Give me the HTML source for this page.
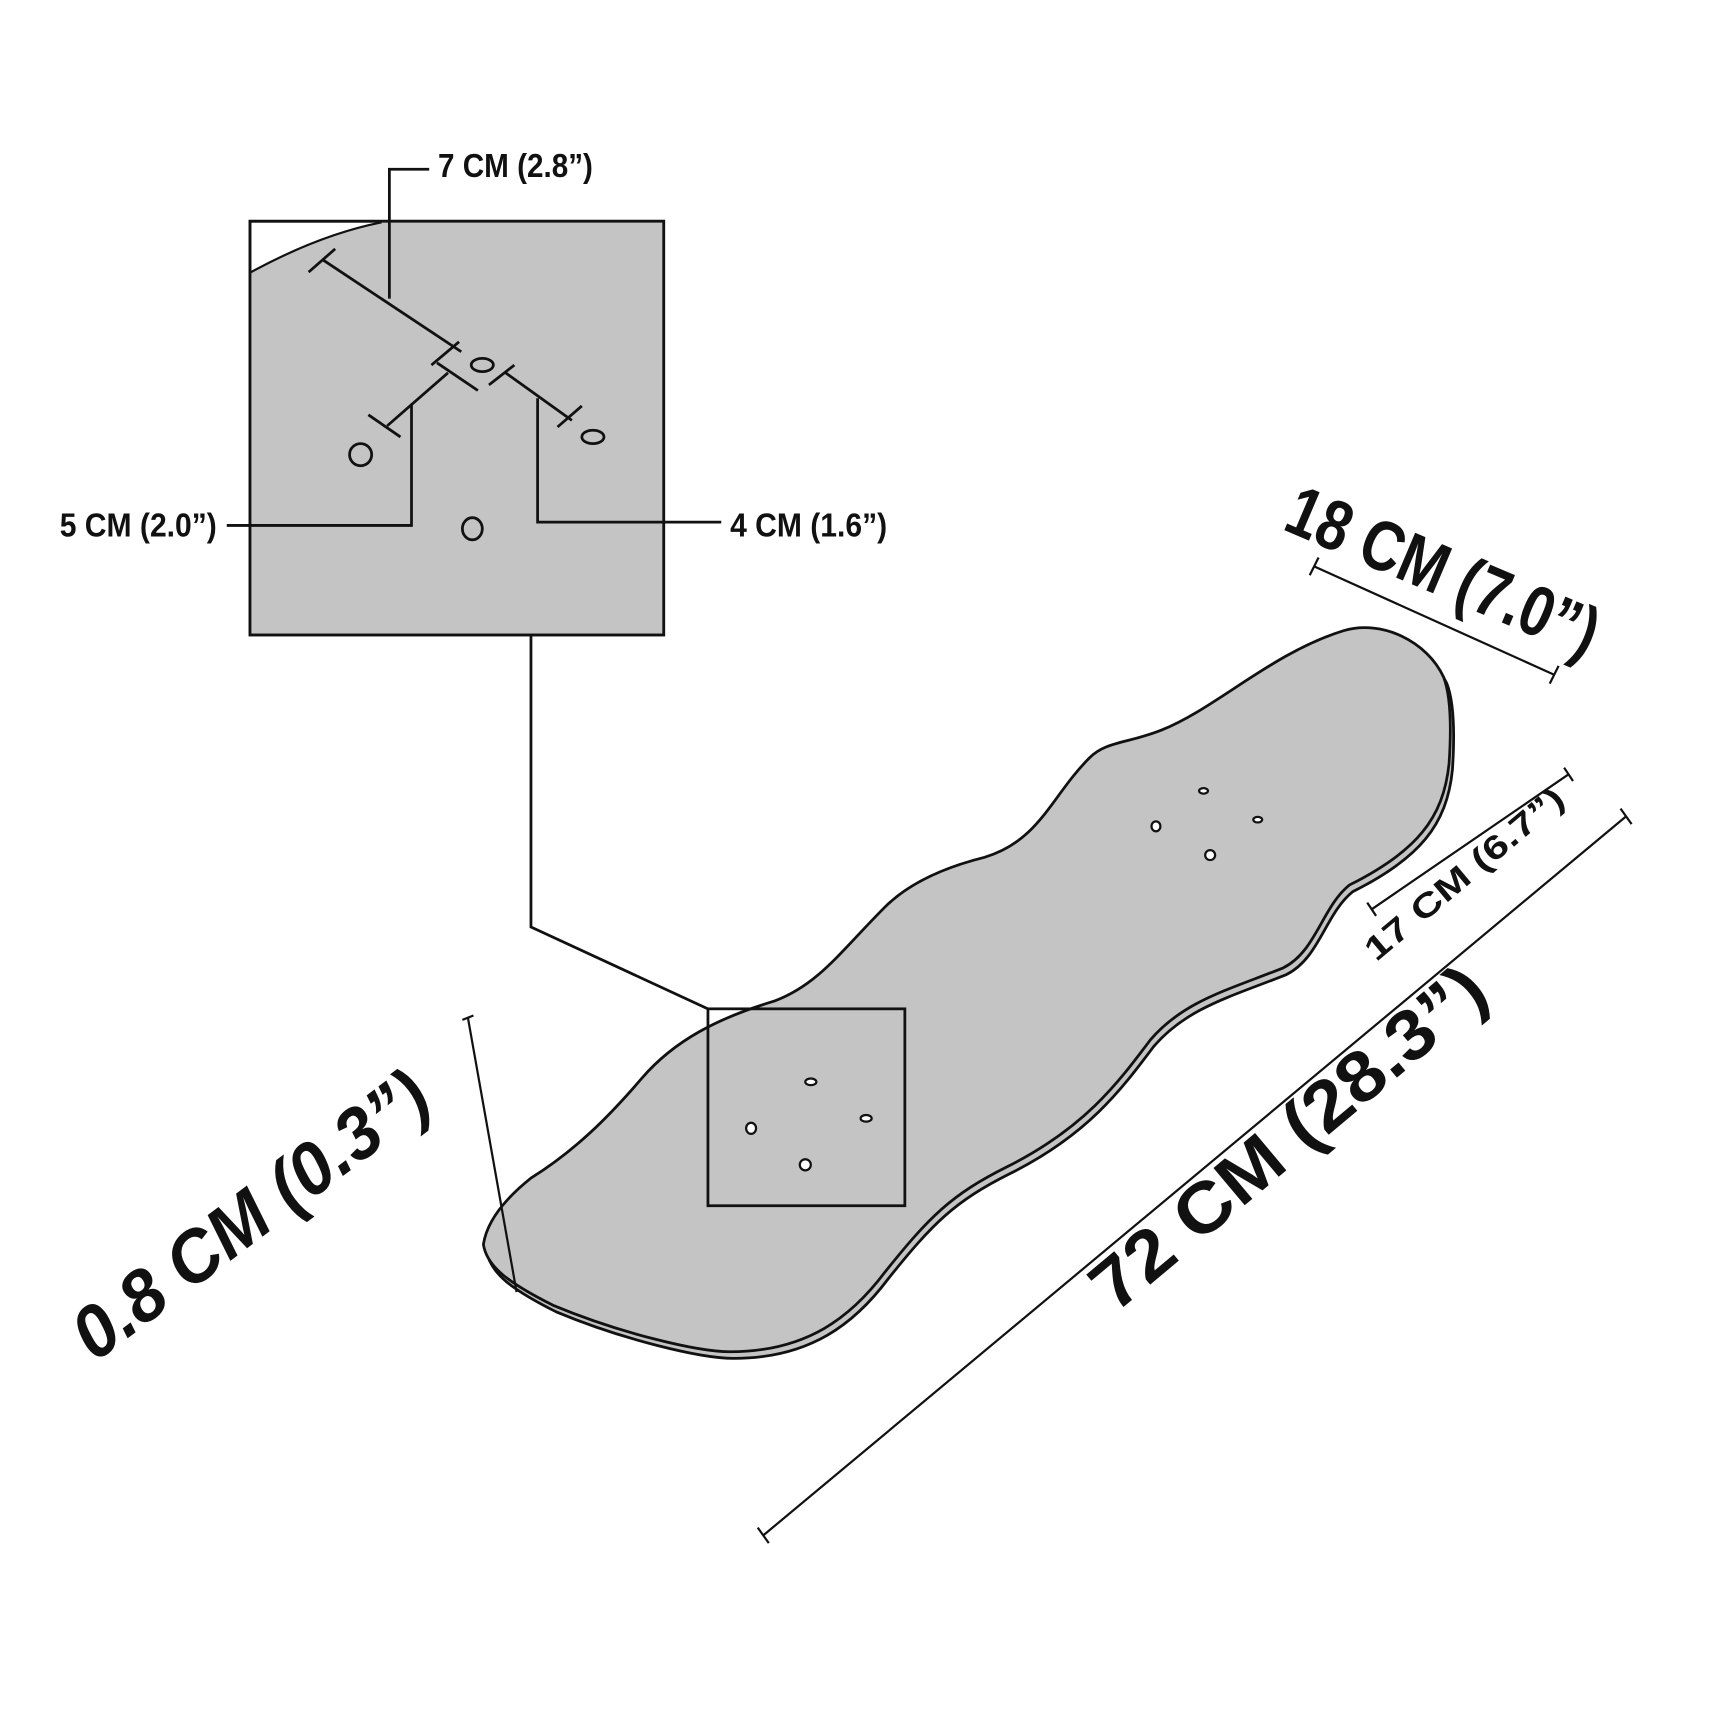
<!DOCTYPE html>
<html><head><meta charset="utf-8"><style>
html,body{margin:0;padding:0;background:#fff;width:1719px;height:1719px;overflow:hidden}
svg{display:block}
text{font-family:"Liberation Sans Narrow","Liberation Sans",sans-serif;font-weight:bold;fill:#111}
</style></head><body>
<svg width="1719" height="1719" viewBox="0 0 1554 1554" xmlns="http://www.w3.org/2000/svg">
<defs>
<path id="deck" d="M1305,612 C1290,580 1250,560 1215,570 C1150,590 1100,640 1050,660 C1020,672 1000,670 985,685 C950,720 940,760 890,775 C850,785 820,800 800,820 C760,860 740,890 700,905 C650,920 610,940 580,975 C550,1010 520,1040 480,1065 C455,1085 440,1105 437,1125 C440,1145 460,1160 500,1180 C560,1205 630,1222 660,1222 C730,1222 770,1190 800,1150 C840,1100 860,1080 910,1055 C980,1020 1010,980 1040,940 C1070,905 1110,895 1160,875 C1190,860 1195,820 1220,800 C1280,770 1305,740 1310,690 C1312,660 1312,630 1305,612 Z"/>
</defs>
<use href="#deck" transform="translate(3,6)" fill="#c4c4c4" stroke="#111" stroke-width="2.5"/>
<use href="#deck" fill="#c4c4c4" stroke="#111" stroke-width="2.5"/>
<g fill="#fff" stroke="#111" stroke-width="2">
<ellipse cx="1088" cy="715" rx="4" ry="2.5"/><ellipse cx="1045" cy="747" rx="4" ry="4.5"/><ellipse cx="1137" cy="741" rx="4" ry="2.5"/><ellipse cx="1094" cy="773" rx="4.5" ry="4.5"/>
<ellipse cx="733" cy="978" rx="5" ry="3"/><ellipse cx="679" cy="1020" rx="4.5" ry="5"/><ellipse cx="783" cy="1011" rx="5" ry="3"/><ellipse cx="728" cy="1053" rx="5" ry="5"/>
</g>
<rect x="640" y="912" width="178" height="178" fill="none" stroke="#111" stroke-width="2.5"/>
<polyline points="480,575 480,838 640,912" fill="none" stroke="#111" stroke-width="2.5"/>
<rect x="226" y="200" width="374" height="374" fill="#fff" stroke="#111" stroke-width="2.5"/>
<path d="M227,246 C260,228 300,210 345,201 L599,201 L599,573 L227,573 Z" fill="#c4c4c4"/>
<path d="M227,246 C260,228 300,210 345,201" fill="none" stroke="#111" stroke-width="2"/>
<rect x="226" y="200" width="374" height="374" fill="none" stroke="#111" stroke-width="2.5"/>
<g fill="none" stroke="#111" stroke-width="2.5">
<line x1="292" y1="235" x2="417" y2="318"/><line x1="279" y1="246" x2="303" y2="225"/><line x1="390" y1="330" x2="415" y2="309"/>
<line x1="395" y1="328" x2="432" y2="353"/><line x1="442" y1="348" x2="465" y2="330"/><line x1="457" y1="337" x2="517" y2="380"/><line x1="504" y1="386" x2="526" y2="367"/>
<line x1="405" y1="337" x2="350" y2="385"/><line x1="333" y1="375" x2="362" y2="395"/>
<polyline points="352,270 352,153 388,153"/>
<polyline points="205,475 372,475 372,365"/>
<polyline points="486,360 486,472 652,472"/>
<ellipse cx="436" cy="330" rx="10" ry="6" fill="#c4c4c4"/><ellipse cx="326" cy="411" rx="10" ry="10" fill="#c4c4c4"/><ellipse cx="536" cy="395" rx="10" ry="6" fill="#c4c4c4"/><ellipse cx="427" cy="478" rx="9" ry="10" fill="#c4c4c4"/>
</g>
<text x="396" y="160" font-size="30" textLength="140" lengthAdjust="spacingAndGlyphs">7 CM (2.8”)</text>
<text x="54" y="485" font-size="30" textLength="142" lengthAdjust="spacingAndGlyphs">5 CM (2.0”)</text>
<text x="660" y="485" font-size="30" textLength="142" lengthAdjust="spacingAndGlyphs">4 CM (1.6”)</text>
<g stroke="#111" stroke-width="2">
<line x1="1188" y1="512" x2="1405" y2="610"/><line x1="1184" y1="520" x2="1192" y2="504"/><line x1="1401" y1="618" x2="1409" y2="602"/>
<line x1="1240" y1="822" x2="1418" y2="700"/><line x1="1236" y1="816" x2="1244" y2="828"/><line x1="1414" y1="694" x2="1422" y2="706"/>
<line x1="690" y1="1388" x2="1470" y2="738"/><line x1="685" y1="1381" x2="695" y2="1395"/><line x1="1465" y1="731" x2="1475" y2="745"/>
<line x1="423" y1="920" x2="467" y2="1168"/><line x1="418" y1="922" x2="428" y2="918"/>
</g>
<text font-size="64" transform="translate(1158,478) rotate(23)" textLength="300" lengthAdjust="spacingAndGlyphs">18 CM (7.0”)</text>
<text font-size="30" transform="translate(1244,870) rotate(-40)" textLength="225" lengthAdjust="spacingAndGlyphs">17 CM (6.7”)</text>
<text font-size="64" transform="translate(1008,1188) rotate(-40)" textLength="445" lengthAdjust="spacingAndGlyphs">72 CM (28.3”)</text>
<text font-size="66" font-style="italic" transform="translate(86,1232) rotate(-37)" textLength="385" lengthAdjust="spacingAndGlyphs">0.8 CM (0.3”)</text>
</svg>
</body></html>
